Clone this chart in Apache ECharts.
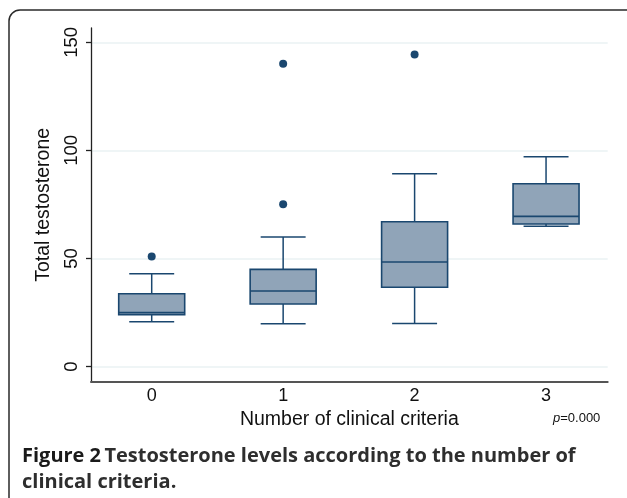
<!DOCTYPE html>
<html>
<head>
<meta charset="utf-8">
<script src="https://cdn.jsdelivr.net/npm/echarts@6/dist/echarts.min.js"></script>
<style>html,body{margin:0;padding:0;background:#fff;}#c{width:627px;height:498px;}</style>
</head>
<body>
<div id="c"></div>
<script>
var categories = [0, 1, 2, 3];
var lowerWhisker = [20.8, 19.9, 20.0, 64.9];
var q1 = [24.0, 29.0, 36.7, 66.0];
var median = [25.0, 35.0, 48.4, 69.5];
var q3 = [33.7, 45.0, 67.0, 84.6];
var upperWhisker = [43.0, 60.0, 89.2, 97.1];
var outliers = [[0, 50.9], [1, 75.1], [1, 140.1], [2, 144.4]];
var yTicks = [0, 50, 100, 150];

var boxData = categories.map(function (c, i) {
  return [c, lowerWhisker[i], q1[i], median[i], q3[i], upperWhisker[i]];
});

var STROKE = '#1a476f';
var FILL = '#90a4b8';
var BOXW = 0.502, CAPW = 0.342;

var chart = echarts.init(document.getElementById('c'));
chart.setOption({
  animation: false,
  grid: { left: 91, right: 19.3, top: 28, bottom: 116.3 },
  xAxis: {
    type: 'value', min: -0.4618, max: 3.469,
    name: 'Number of clinical criteria', nameLocation: 'middle', nameGap: 27,
    nameTextStyle: { fontFamily: 'Liberation Sans', fontSize: 19.5, color: '#111' },
    axisLine: { show: true, onZero: false, lineStyle: { color: '#555', width: 2 } },
    axisTick: { show: false },
    splitLine: { show: false },
    axisLabel: { customValues: categories, fontFamily: 'Liberation Sans', fontSize: 18, color: '#111', margin: 5 }
  },
  yAxis: {
    type: 'value', min: -6.94, max: 156.6,
    name: 'Total testosterone', nameLocation: 'middle', nameGap: 33,
    nameTextStyle: { fontFamily: 'Liberation Sans', fontSize: 19.5, color: '#111' },
    axisLine: { show: true, onZero: false, lineStyle: { color: '#222', width: 1.3 } },
    axisTick: { show: true, customValues: yTicks, length: 5, lineStyle: { color: '#222', width: 1.3 } },
    splitLine: { show: true, lineStyle: { color: '#eaf2f3', width: 1.5 } },
    axisLabel: { customValues: yTicks, rotate: 90, fontFamily: 'Liberation Sans', fontSize: 18.5, color: '#111', margin: 10, align: 'center', verticalAlign: 'bottom' }
  },
  series: [
    {
      type: 'custom',
      data: boxData,
      encode: { x: 0, y: [1, 2, 3, 4, 5] },
      renderItem: function (params, api) {
        var x = api.value(0);
        var bw = api.size([BOXW, 0])[0];
        var cw = api.size([CAPW, 0])[0];
        var pLo = api.coord([x, api.value(1)]);
        var pQ1 = api.coord([x, api.value(2)]);
        var pMed = api.coord([x, api.value(3)]);
        var pQ3 = api.coord([x, api.value(4)]);
        var pHi = api.coord([x, api.value(5)]);
        var cx = pQ1[0];
        var ls = { stroke: STROKE, lineWidth: 1.5, fill: null };
        return {
          type: 'group',
          children: [
            { type: 'line', shape: { x1: cx, y1: pQ3[1], x2: cx, y2: pHi[1] }, style: ls },
            { type: 'line', shape: { x1: cx, y1: pQ1[1], x2: cx, y2: pLo[1] }, style: ls },
            { type: 'line', shape: { x1: cx - cw / 2, y1: pHi[1], x2: cx + cw / 2, y2: pHi[1] }, style: ls },
            { type: 'line', shape: { x1: cx - cw / 2, y1: pLo[1], x2: cx + cw / 2, y2: pLo[1] }, style: ls },
            { type: 'rect', shape: { x: cx - bw / 2, y: pQ3[1], width: bw, height: pQ1[1] - pQ3[1] }, style: { fill: FILL, stroke: STROKE, lineWidth: 1.6 } },
            { type: 'line', shape: { x1: cx - bw / 2, y1: pMed[1], x2: cx + bw / 2, y2: pMed[1] }, style: { stroke: STROKE, lineWidth: 1.6 } }
          ]
        };
      },
      z: 3
    },
    {
      type: 'scatter',
      data: outliers,
      symbol: 'circle',
      symbolSize: 8,
      itemStyle: { color: STROKE, opacity: 1 },
      z: 4
    }
  ],
  graphic: [
    { type: 'rect', shape: { x: 9, y: 10, width: 660, height: 540, r: 11 }, style: { fill: null, stroke: '#2a2a2a', lineWidth: 1.5 }, silent: true },
    { type: 'text', x: 553, y: 418, style: { text: '{i|p}=0.000', fontFamily: 'Liberation Sans', fontSize: 13, fill: '#111', verticalAlign: 'middle', rich: { i: { fontStyle: 'italic', fontFamily: 'Liberation Sans', fontSize: 13, fill: '#111' } } } },
    { type: 'text', x: 22, y: 456, style: { text: '{b|Figure 2} {s|Testosterone levels according to the number of}', verticalAlign: 'middle', rich: {
      b: { fontFamily: 'Open Sans', fontWeight: 'bold', fontSize: 20, fill: '#1a1a1a' },
      s: { fontFamily: 'Open Sans', fontWeight: 'bold', fontSize: 20, fill: '#2e2e2e' } } } },
    { type: 'text', x: 22, y: 482, style: { text: 'clinical criteria.', fontFamily: 'Open Sans', fontWeight: 'bold', fontSize: 20, fill: '#2e2e2e', verticalAlign: 'middle' } }
  ]
});
</script>
</body>
</html>
